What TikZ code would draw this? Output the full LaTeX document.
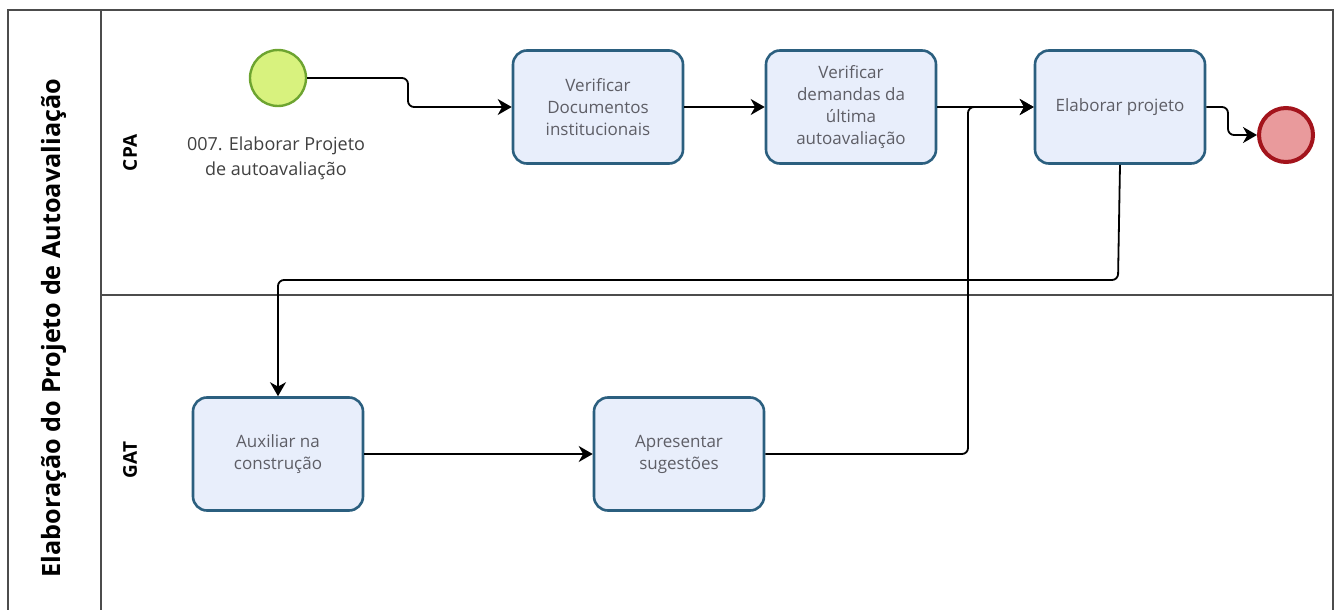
\documentclass[tikz,border=0pt]{standalone}
\usepackage{fontspec}
\setmainfont{Open Sans}
\usetikzlibrary{shapes.geometric, arrows.meta}
\definecolor{taskfill}{HTML}{E8EEFB}
\definecolor{taskline}{HTML}{2B5F7F}
\definecolor{startfill}{HTML}{D8F27E}
\definecolor{startline}{HTML}{6DA430}
\definecolor{endfill}{HTML}{E99A9C}
\definecolor{endline}{HTML}{A3141C}
\definecolor{txtgray}{HTML}{5E5E66}
\tikzstyle{arrow} = [line width=0.9pt,-{Stealth[length=7pt,width=8pt,inset=2.2pt]},rounded corners=3pt]
\tikzstyle{task} = [rectangle, rounded corners=7pt, draw=taskline, line width=1.3pt, fill=taskfill, minimum width=85pt, minimum height=56.5pt, align=center, text=txtgray, font=\fontsize{8.5}{11}\selectfont]
\tikzstyle{startev} = [circle, draw=startline, line width=1.2pt, fill=startfill, minimum size=28pt, inner sep=0pt]
\tikzstyle{endev} = [circle, draw=endline, line width=2pt, fill=endfill, minimum size=27pt, inner sep=0pt]
\tikzstyle{pool} = [draw=black!70, line width=0.8pt]
\tikzstyle{lanelabel} = [rotate=90, font=\bfseries\fontsize{9.5}{11}\selectfont]

\begin{document}
\begin{tikzpicture}[x=0.5pt, y=-0.5pt]
	\useasboundingbox (0,0) rectangle (1338,610);
	% pool and lanes
	\draw[pool] (8,610) -- (8,10) -- (1333,10) -- (1333,610);
	\draw[pool] (101,10) -- (101,610);
	\draw[pool] (101,295) -- (1333,295);
	\node[rotate=90, font=\bfseries\fontsize{12.6}{14}\selectfont] (pooltitle) at (54,328) {Elaboração do Projeto de Autoavaliação};
	\node[lanelabel] (cpa) at (130,153) {CPA};
	\node[lanelabel] (gat) at (130,460) {GAT};
	% events and tasks
	\node[startev] (start) at (278,78) {};
	\node[align=center, text=black!75, font=\fontsize{9}{12.5}\selectfont] (startlbl) at (276,158) {007. Elaborar Projeto\\de autoavaliação};
	\node[task] (docs) at (598,107) {Verificar\\Documentos\\institucionais};
	\node[task] (demandas) at (851,107) {Verificar\\demandas da\\última\\autoavaliação};
	\node[task] (projeto) at (1120,107) {Elaborar projeto};
	\node[endev] (end) at (1286,135) {};
	\node[task] (auxiliar) at (278,454) {Auxiliar na\\construção};
	\node[task] (sugestoes) at (679,454) {Apresentar\\sugestões};
	% flows
	\draw[arrow] (start.east) -- (408,78) -- (408,107) -- (docs.west);
	\draw[arrow] (docs.east) -- (demandas.west);
	\draw[arrow] (demandas.east) -- (projeto.west);
	\draw[arrow] (projeto.east) -- (1228,107) -- (1228,135) -- (end.west);
	\draw[arrow] (projeto.south) -- (1118,280) -- (278,280) -- (auxiliar.north);
	\draw[arrow] (auxiliar.east) -- (sugestoes.west);
	\draw[arrow] (sugestoes.east) -- (968,454) -- (968,107) -- (projeto.west);
\end{tikzpicture}
\end{document}
